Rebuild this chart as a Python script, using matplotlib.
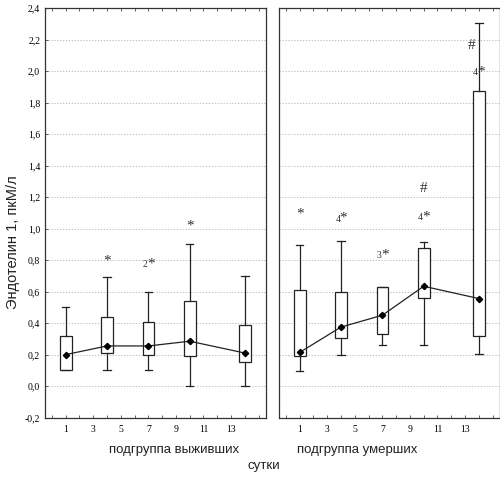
import numpy as np
import matplotlib
matplotlib.use("Agg")
import matplotlib.pyplot as plt
from matplotlib.ticker import MultipleLocator, FixedLocator

# days where measurements were taken
days = [1, 4, 7, 10, 14]

# survivors subgroup: min, q1, median, q3, max
surv_min = [0.10, 0.10, 0.10, 0.00, 0.00]
surv_q1 = [0.10, 0.21, 0.20, 0.19, 0.15]
surv_med = [0.20, 0.255, 0.255, 0.285, 0.21]
surv_q3 = [0.32, 0.44, 0.41, 0.54, 0.39]
surv_max = [0.50, 0.69, 0.60, 0.90, 0.70]

# deceased subgroup
dead_min = [0.095, 0.195, 0.26, 0.26, 0.205]
dead_q1 = [0.193, 0.307, 0.333, 0.562, 0.318]
dead_med = [0.214, 0.375, 0.45, 0.634, 0.556]
dead_q3 = [0.613, 0.60, 0.632, 0.874, 1.874]
dead_max = [0.895, 0.923, 0.632, 0.913, 2.307]

# significance marks: (day, value, superscript, symbol)
surv_marks = [(4, 0.80, "", "*"), (7, 0.78, "2", "*"), (10, 1.02, "", "*")]
dead_marks = [(1, 1.10, "", "*"), (4, 1.07, "4", "*"), (7, 0.84, "3", "*"),
              (10, 1.08, "4", "*"), (10, 1.26, "", "#"),
              (14, 2.00, "4", "*"), (13.5, 2.17, "", "#")]

ytick_vals = [-0.2, 0.0, 0.2, 0.4, 0.6, 0.8, 1.0, 1.2, 1.4, 1.6, 1.8, 2.0, 2.2, 2.4]
ytick_labels = [f"{v:.1f}".replace(".", ",") for v in ytick_vals]
xtick_vals = [1, 3, 5, 7, 9, 11, 13]

serif = "Liberation Serif"
sans = "Liberation Sans"

fig = plt.figure(figsize=(5, 4.8), dpi=100)
ax1 = fig.add_axes([0.090, 0.130, 0.441, 0.853])
ax2 = fig.add_axes([0.558, 0.130, 0.441, 0.853])


def draw_panel(ax, mins, q1s, meds, q3s, maxs, marks):
    stats = []
    for lo, a, m, b, hi in zip(mins, q1s, meds, q3s, maxs):
        stats.append(dict(whislo=lo, q1=a, med=m, q3=b, whishi=hi, fliers=[]))
    ax.bxp(stats, positions=days, widths=0.85, showfliers=False,
           patch_artist=True, manage_ticks=False,
           boxprops=dict(facecolor="white", edgecolor="#222222", linewidth=0.9),
           whiskerprops=dict(color="#222222", linewidth=0.9),
           capprops=dict(color="#222222", linewidth=0.9),
           medianprops=dict(linewidth=0), capwidths=0.55, zorder=2)
    ax.plot(days, meds, color="#222222", linewidth=0.9, marker="D",
            markersize=3.2, markerfacecolor="black", markeredgecolor="black",
            zorder=3)
    for x, y, sup, sym in marks:
        if sup:
            ax.text(x - 0.05, y - 0.01, sup, fontsize=7, family=serif,
                    ha="right", va="center", color="#333333")
            ax.text(x - 0.1, y - 0.005, sym, fontsize=11, family=serif,
                    ha="left", va="center", color="#333333")
        else:
            ax.text(x, y - 0.005, sym, fontsize=11, family=serif,
                    ha="center", va="center", color="#333333")
    ax.set_xlim(-0.5, 15.5)
    ax.set_ylim(-0.2, 2.4)
    ax.xaxis.set_major_locator(FixedLocator(xtick_vals))
    ax.xaxis.set_minor_locator(MultipleLocator(1))
    ax.yaxis.set_major_locator(FixedLocator(ytick_vals))
    ax.grid(axis="y", linestyle=(0, (1.5, 2)), color="#b0b0b0", linewidth=0.6)
    ax.set_axisbelow(True)
    ax.tick_params(which="both", direction="in", top=True, bottom=True,
                   length=2.5, width=0.6, color="#444444")
    ax.tick_params(axis="x", which="major", labelsize=7, pad=5)
    ax.set_xticklabels([str(v) for v in xtick_vals], family=serif)
    for s in ax.spines.values():
        s.set_color("#333333")
        s.set_linewidth(0.9)


draw_panel(ax1, surv_min, surv_q1, surv_med, surv_q3, surv_max, surv_marks)
draw_panel(ax2, dead_min, dead_q1, dead_med, dead_q3, dead_max, dead_marks)

ax1.set_yticklabels(ytick_labels, family=serif, fontsize=7)
ax1.tick_params(axis="y", right=False)
ax2.tick_params(axis="y", left=False, right=False, labelleft=False)

fig.text(0.027, 1 - 242 / 480, "Эндотелин 1, пкМ/л", rotation=90,
         family=sans, fontsize=10.5, ha="center", va="center", color="#222222")
fig.text(174 / 500, 1 - 450 / 480, "подгруппа выживших", family=sans,
         fontsize=9.5, ha="center", va="center", color="#222222")
fig.text(357 / 500, 1 - 450 / 480, "подгруппа умерших", family=sans,
         fontsize=9.5, ha="center", va="center", color="#222222")
fig.text(264 / 500, 1 - 466 / 480, "сутки", family=sans,
         fontsize=9.5, ha="center", va="center", color="#222222")

fig.savefig("out.png", dpi=100)
